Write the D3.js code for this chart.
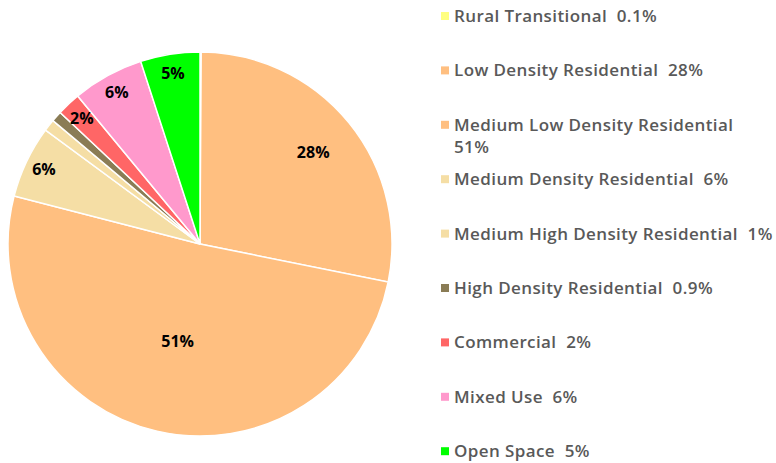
<!DOCTYPE html>
<html>
<head>
<meta charset="utf-8">
<script src="https://cdn.jsdelivr.net/npm/d3@7/dist/d3.min.js"></script>
<style>
  html, body { margin: 0; padding: 0; background: #fff; }
  svg { display: block; }
</style>
</head>
<body>
<div id="chart"></div>
<script>
const categories = [
    'Rural Transitional',
    'Low Density Residential',
    'Medium Low Density Residential',
    'Medium Density Residential',
    'Medium High Density Residential',
    'High Density Residential',
    'Commercial',
    'Mixed Use',
    'Open Space'
];
const values = [0.1, 28.1, 50.9, 6.1, 1.0, 0.9, 2.0, 6.0, 5.0];
const valueLabels = ['0.1%', '28%', '51%', '6%', '1%', '0.9%', '2%', '6%', '5%'];
const colors = ['#ffff80', '#ffbf80', '#ffbf80', '#f5dea5', '#f5dea5', '#8a7c55', '#ff6666', '#ff99cc', '#00ff00'];

const width = 776, height = 463;
const cx = 200, cy = 244, radius = 192;

const svg = d3.select('#chart')
    .append('svg')
    .attr('width', width)
    .attr('height', height);

const data = categories.map((c, i) => ({ name: c, value: values[i], label: valueLabels[i], color: colors[i] }));

const pie = d3.pie()
    .value(d => d.value)
    .sort(null);

const arc = d3.arc()
    .innerRadius(0)
    .outerRadius(radius);

const arcs = pie(data);

const g = svg.append('g')
    .attr('transform', `translate(${cx},${cy})`);

// slices
g.selectAll('path')
    .data(arcs)
    .join('path')
    .attr('d', arc)
    .attr('fill', d => d.data.color)
    .attr('stroke', '#fff')
    .attr('stroke-width', 1.5);

// labels inside slices (only the bigger ones)
function labelRadius(v) {
    if (v > 40) return radius * 0.52;
    if (v > 20) return radius * 0.76;
    return radius * 0.9;
}

g.selectAll('text.slice-label')
    .data(arcs.filter(d => d.data.value >= 2))
    .join('text')
    .attr('class', 'slice-label')
    .attr('transform', d => {
        const a = (d.startAngle + d.endAngle) / 2;
        const r = labelRadius(d.data.value);
        return `translate(${Math.sin(a) * r},${-Math.cos(a) * r})`;
    })
    .attr('text-anchor', 'middle')
    .attr('dy', '0.35em')
    .attr('font-family', 'Open Sans, sans-serif')
    .attr('font-weight', 700)
    .attr('font-size', 16)
    .attr('fill', '#000')
    .text(d => d.data.label);

// legend
const legendX = 441, legendTop = 16, legendStep = 54.4, maxTextWidth = 323;

const legend = svg.append('g')
    .attr('font-family', 'Open Sans, sans-serif')
    .attr('font-weight', 600)
    .attr('font-size', 17)
    .attr('letter-spacing', 0.4)
    .attr('fill', '#595959');

data.forEach((d, i) => {
    const y = legendTop + i * legendStep;
    legend.append('rect')
        .attr('x', legendX)
        .attr('y', y - 4)
        .attr('width', 8)
        .attr('height', 8)
        .attr('fill', d.color);

    const t = legend.append('text')
        .attr('x', legendX + 13)
        .attr('y', y)
        .attr('dy', '0.35em')
        .attr('xml:space', 'preserve')
        .text(d.name + '  ' + d.label);

    // wrap the label onto a second line when it runs past the edge
    if (t.node().getComputedTextLength() > maxTextWidth) {
        t.text(d.name);
        legend.append('text')
            .attr('x', legendX + 13)
            .attr('y', y + 22)
            .attr('dy', '0.35em')
            .text(d.label);
    }
});
</script>
</body>
</html>
